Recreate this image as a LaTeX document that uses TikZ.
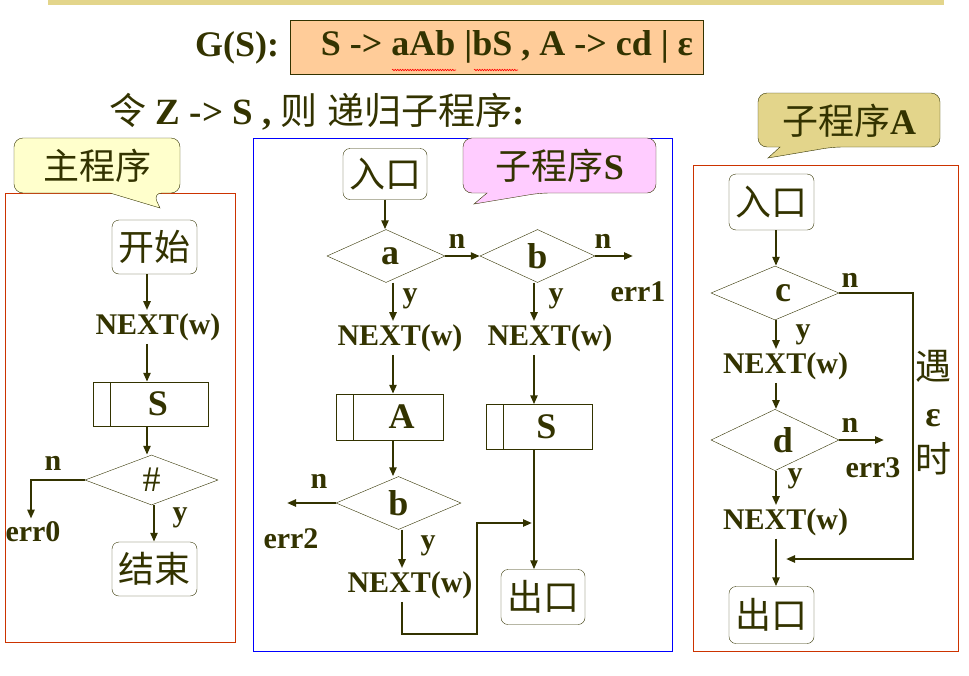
\documentclass[tikz,border=0pt]{standalone}
\usepackage{fontspec}
\setmainfont{Liberation Serif}
\newfontfamily\cjk{Noto Sans CJK SC}
\usetikzlibrary{shapes.geometric,arrows.meta,decorations.pathmorphing}
\definecolor{inkolive}{RGB}{51,51,0}
\definecolor{barkhaki}{RGB}{227,213,139}
\definecolor{gramorange}{RGB}{255,204,153}
\definecolor{notepale}{RGB}{255,255,204}
\definecolor{notepink}{RGB}{255,204,255}
\definecolor{framered}{RGB}{204,51,0}
\definecolor{frameblue}{RGB}{0,0,255}

\newcommand{\fsword}{\fontsize{30}{32}\selectfont\bfseries}
\newcommand{\fsbig}{\fontsize{36}{38}\selectfont\bfseries}
\newcommand{\fscjk}{\cjk\fontsize{36}{38}\selectfont}
\newcommand{\latin}[1]{{\rmfamily\fsbig #1}}

\tikzset{
  term/.style={draw=inkolive, thin, rounded corners=7pt, minimum width=85pt,
    minimum height=54pt, inner sep=0pt, font=\fscjk},
  decision/.style={diamond, draw=inkolive, thin, inner sep=0pt, font=\fsbig},
  subproc/.style={draw=inkolive, thin, inner sep=0pt, font=\fsbig,
    path picture={\draw[inkolive, thin]
      ([xshift=17pt]path picture bounding box.north west) --
      ([xshift=17pt]path picture bounding box.south west);}},
  word/.style={font=\fsword, inner sep=3pt},
  cjkword/.style={font=\fscjk, inner sep=0pt},
  flow/.style={draw=inkolive, line width=2.4pt, -{Triangle[length=9pt,width=7pt]}},
  note/.style={draw=inkolive, thin},
  box/.style={thin},
  spell/.style={draw=red, line width=0.6pt, decorate,
    decoration={snake, amplitude=0.7pt, segment length=2.5pt}},
}

\begin{document}
\begin{tikzpicture}[x=1pt, y=-1pt, text=inkolive]
  \useasboundingbox (0,0) rectangle (969,675);

  % header
  \fill[barkhaki] (48,0) rectangle (944,5);
  \node[font=\fsbig] (gs) at (237,48) {G(S):};
  \draw[note, fill=gramorange] (290,20) rectangle (703,74);
  \node[font=\fsbig] (gram) at (507,47) {S -> aAb |bS , A -> cd | ε};
  \draw[spell] (392,70) -- (456,70);
  \draw[spell] (474,70) -- (518,70);
  \node[font=\fontsize{37}{39}\selectfont\bfseries] (intro) at (317,112)
    {{\cjk\mdseries 令} Z -> S , {\cjk\mdseries 则} {\cjk\mdseries 递归子程序}:};

  % frames
  \draw[box, framered] (5,193) rectangle (235,642);
  \draw[box, frameblue] (253,138) rectangle (672,651);
  \draw[box, framered] (693,165) rectangle (958,651);

  % callouts
  \draw[note, fill=notepale] (14,165) [rounded corners=9pt] -- (14,138) -- (180,138)
    -- (180,193) -- (153,193) [sharp corners] -- (160,208) -- (110,193)
    [rounded corners=9pt] -- (14,193) -- cycle;
  \node[cjkword] (mtitle) at (97,166) {主程序};
  \draw[note, fill=notepink] (463,165) [rounded corners=9pt] -- (463,138) -- (656,138)
    -- (656,193) -- (540,193) [sharp corners] -- (474,204) -- (487,193)
    [rounded corners=9pt] -- (463,193) -- cycle;
  \node[cjkword] (stitle) at (560,166) {子程序\latin{S}};
  \draw[note, fill=barkhaki] (758,120) [rounded corners=9pt] -- (758,93) -- (940,93)
    -- (940,147) -- (833,147) [sharp corners] -- (768,158) -- (780,147)
    [rounded corners=9pt] -- (758,147) -- cycle;
  \node[cjkword] (atitle) at (849,121) {子程序\latin{A}};

  % main program
  \coordinate (mcol) at (147,0);
  \coordinate (mcoly) at (154,0);
  \node[term] (mstart) at (154.5,247) {开始};
  \node[word] (mnext) at (158,327) {NEXT(w)};
  \node[subproc, minimum width=115pt, minimum height=44pt] (msub) at (150.5,404) {\hspace*{15pt}S};
  \node[decision, minimum width=133pt, minimum height=50pt] (mhash) at (151.5,480) {\mdseries\#};
  \node[term] (mend) at (154.5,569) {结束};
  \node[word] (err0) at (33,532) {err0};
  \node[word] (mn) at (53,463) {n};
  \node[word] (my) at (180,518) {y};
  \draw[flow] (mstart.south -| mcol) -- (mnext.north -| mcol);
  \draw[flow] (mnext.south -| mcol) -- (msub.north -| mcol);
  \draw[flow] (msub.south -| mcol) -- (mhash.north -| mcol);
  \draw[flow] (mhash.south -| mcoly) -- (mend.north -| mcoly);
  \draw[flow] (mhash.west) -| ([xshift=-2pt]err0.north);

  % sub program S
  \coordinate (scola) at (393,0);
  \coordinate (scolb) at (534,0);
  \coordinate (scolc) at (402,0);
  \coordinate (e1) at (633,256);
  \coordinate (e2) at (287,503);
  \coordinate (sloop) at (477,634);
  \coordinate (sjoin) at (532,523);
  \node[term, minimum width=84pt, minimum height=51pt] (sentry) at (385,174) {入口};
  \node[decision, minimum width=118pt, minimum height=53pt] (sa) at (386,256) {\hspace*{8pt}a};
  \node[decision, minimum width=115pt, minimum height=53pt] (sb) at (537.5,256) {b};
  \node[word] (snexta) at (400,338) {NEXT(w)};
  \node[word] (snextb) at (550,338) {NEXT(w)};
  \node[subproc, minimum width=107pt, minimum height=46pt] (ssuba) at (389.5,417) {\hspace*{24pt}A};
  \node[subproc, minimum width=106pt, minimum height=45pt] (ssubs) at (539,427) {\hspace*{15pt}S};
  \node[decision, minimum width=125pt, minimum height=53pt] (sb2) at (398.5,503) {b};
  \node[word] (snextc) at (410,585) {NEXT(w)};
  \node[term, minimum width=84pt, minimum height=55pt] (sexit) at (543,597) {出口};
  \node[word] (err1) at (638,292) {err1};
  \node[word] (err2) at (291,539) {err2};
  \node[word] (sn1) at (457,241) {n};
  \node[word] (sn2) at (603,241) {n};
  \node[word] (sn3) at (319,481) {n};
  \node[word] (sy1) at (410,299) {y};
  \node[word] (sy2) at (556,299) {y};
  \node[word] (sy3) at (428,546) {y};
  \draw[flow] (sentry.south) -- (sentry.south |- sa.north);
  \draw[flow] (sa.east) -- (sb.west);
  \draw[flow] (sb.east) -- (e1);
  \draw[flow] (sa.south -| scola) -- (snexta.north -| scola);
  \draw[flow] (snexta.south -| scola) -- (ssuba.north -| scola);
  \draw[flow] (ssuba.south -| scola) -- (sb2.north -| scola);
  \draw[flow] (sb2.west) -- (e2);
  \draw[flow] (sb2.south -| scolc) -- (snextc.north -| scolc);
  \draw[flow] (snextc.south -| scolc) |- (sloop) |- (sjoin);
  \draw[flow] (sb.south -| scolb) -- (snextb.north -| scolb);
  \draw[flow] (snextb.south -| scolb) -- (ssubs.north -| scolb);
  \draw[flow] (ssubs.south -| scolb) -- (sexit.north -| scolb);

  % sub program A
  \coordinate (acol) at (776,0);
  \coordinate (abend) at (913,559);
  \coordinate (amerge) at (786,559);
  \coordinate (e3) at (884,440);
  \node[term, minimum width=85pt, minimum height=56pt] (aentry) at (771.5,202) {入口};
  \node[decision, minimum width=128pt, minimum height=54pt] (ac) at (775,293) {\hspace*{16pt}c};
  \node[word] (anext1) at (785.5,366) {NEXT(w)};
  \node[decision, minimum width=128pt, minimum height=52pt] (ad) at (775,440) {\hspace*{16pt}d};
  \node[word] (anext2) at (785.5,522) {NEXT(w)};
  \node[term, minimum width=85pt, minimum height=57pt] (aexit) at (771.5,615) {出口};
  \node[word] (err3) at (873,468) {err3};
  \node[word] (an1) at (850,280) {n};
  \node[word] (an2) at (850,425) {n};
  \node[word] (ay1) at (803,335) {y};
  \node[word] (ay2) at (795,479) {y};
  \node[cjkword] (ameet) at (933,366) {遇};
  \node[font=\fsbig, inner sep=0pt] (aeps) at (933,418) {ε};
  \node[cjkword] (atime) at (933,459) {时};
  \draw[flow] (aentry.south -| acol) -- (ac.north -| acol);
  \draw[flow] (ac.south -| acol) -- (anext1.north -| acol);
  \draw[flow] (anext1.south -| acol) -- (ad.north -| acol);
  \draw[flow] (ad.east) -- (e3);
  \draw[flow] (ad.south -| acol) -- (anext2.north -| acol);
  \draw[flow] (anext2.south -| acol) -- (aexit.north -| acol);
  \draw[flow] (ac.east) -| (abend) -- (amerge);
\end{tikzpicture}
\end{document}
